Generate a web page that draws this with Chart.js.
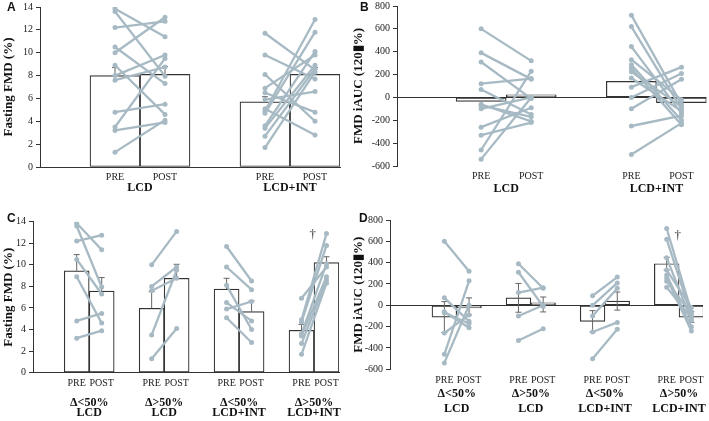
<!DOCTYPE html>
<html>
<head>
<meta charset="utf-8">
<script src="https://cdn.jsdelivr.net/npm/chart.js@4.4.0/dist/chart.umd.min.js"></script>
<style>
    html, body { margin: 0; padding: 0; background: #fff; }
    #figure { position: relative; width: 709px; height: 421px; overflow: hidden; }
    canvas { position: absolute; }
    .letter { position: absolute; font: bold 12px "Liberation Sans", Arial, sans-serif; line-height: 12px; color: #111; }
</style>
</head>
<body>
<div id="figure">
    <canvas id="chartA" width="350" height="210" style="left:0;top:0"></canvas>
    <canvas id="chartB" width="359" height="210" style="left:350px;top:0"></canvas>
    <canvas id="chartC" width="350" height="211" style="left:0;top:210px"></canvas>
    <canvas id="chartD" width="359" height="211" style="left:350px;top:210px"></canvas>
    <div class="letter" style="left:7px;top:1px">A</div>
    <div class="letter" style="left:360px;top:1px">B</div>
    <div class="letter" style="left:7px;top:212px">C</div>
    <div class="letter" style="left:359px;top:212px">D</div>
</div>
<script>
//LABELS
const prePostLabels = ['PRE', 'POST'];
const dietGroups = ['LCD', 'LCD+INT'];
const responseGroups = [['Δ<50%', 'LCD'], ['Δ>50%', 'LCD'], ['Δ<50%', 'LCD+INT'], ['Δ>50%', 'LCD+INT']];
const fmdTicks = [0, 2, 4, 6, 8, 10, 12, 14];
const aucTicks = [-600, -400, -200, 0, 200, 400, 600, 800];

//FASTING FMD (%) PER SUBJECT, BY RESPONSE GROUP (PANEL C), MERGED FOR PANEL A
const fmdPre = [
    [13.85, 13.6, 12.2, 10.5, 8.9, 4.8, 3.2],
    [10.0, 8.0, 7.6, 3.5, 1.3],
    [11.7, 9.8, 8.1, 6.5, 5.9, 5.1],
    [6.9, 4.9, 4.7, 3.6, 3.4, 2.7, 1.7]
];
const fmdPost = [
    [11.4, 7.95, 12.75, 7.3, 4.6, 5.5, 3.9],
    [13.1, 9.8, 8.75, 9.5, 4.1],
    [8.5, 7.7, 4.0, 4.8, 6.6, 2.8],
    [9.8, 12.9, 11.8, 10.1, 8.9, 8.6, 8.3]
];
const fmdMeanPre = [9.45, 5.97, 7.75, 3.93];
const fmdMeanPost = [7.57, 8.75, 5.66, 10.2];
const fmdSePre = [1.5, 1.55, 1.0, 0.55];
const fmdSePost = [1.25, 1.3, 1.0, 0.55];
const fmdMeanPreAll = [8.0, 5.7];
const fmdMeanPostAll = [8.1, 8.1];
const fmdSePreAll = [0.7, 0.45];
const fmdSePostAll = [0.7, 0.6];

//FMD iAUC PER SUBJECT, BY RESPONSE GROUP (PANEL D), MERGED FOR PANEL B
const aucPre = [
    [600, 70, -60, -70, -260, -460, -540],
    [390, 310, 120, -100, -330],
    [90, 0, -100, -250, -500],
    [720, 620, 445, 330, 285, 255, 225, 170]
];
const aucPost = [
    [320, -150, -210, -170, -90, 230, 0],
    [160, -10, 165, 0, -220],
    [265, 210, 160, -160, -225],
    [-60, -100, -140, -20, -200, -240, -80, -120]
];
const aucMeanPre = [-110, 70, -150, 390];
const aucMeanPost = [-10, 8, 40, -110];
const aucSePre = [145, 135, 100, 60];
const aucSePost = [80, 70, 85, 50];
const aucMeanPreAll = [-35, 140];
const aucMeanPostAll = [10, -45];

//SIGNIFICANCE MARKS
const daggerFmd = { group: 3, y: 12.8 };
const daggerAuc = { group: 3, y: 650 };


const serif = '"Liberation Serif", "Times New Roman", serif';
const subjectColor = '#a7bac4';
const inkColor = '#333';

const mergeGroups = (arr, a, b) => arr[a].concat(arr[b]);


//ERROR BARS, DRAWN RIGHT AFTER THE BARS AND UNDER THE SUBJECT LINES
const errorBarsPlugin = {
    id: 'errorBars',
    afterDatasetDraw(chart, args, opts) {
        if (args.meta.type !== 'bar' || !opts.up) return;
        const ctx = chart.ctx;
        const yScale = chart.scales.y;
        const values = chart.data.datasets[args.index].data;
        ctx.save();
        ctx.strokeStyle = '#666';
        ctx.lineWidth = 1;
        args.meta.data.forEach((bar, i) => {
            const v = values[i].y;
            const top = yScale.getPixelForValue(v + opts.up[i]);
            const bottom = yScale.getPixelForValue(v - (opts.both ? opts.up[i] : 0));
            ctx.beginPath();
            ctx.moveTo(bar.x, top);
            ctx.lineTo(bar.x, bottom);
            ctx.moveTo(bar.x - 3, top);
            ctx.lineTo(bar.x + 3, top);
            if (opts.both) {
                ctx.moveTo(bar.x - 3, bottom);
                ctx.lineTo(bar.x + 3, bottom);
            }
            ctx.stroke();
        });
        ctx.restore();
    }
};

//DAGGER MARKS
const daggerPlugin = {
    id: 'daggers',
    afterDatasetsDraw(chart, args, opts) {
        if (!opts.items) return;
        const ctx = chart.ctx;
        ctx.save();
        ctx.fillStyle = inkColor;
        ctx.font = '13px ' + serif;
        ctx.textAlign = 'center';
        ctx.textBaseline = 'middle';
        opts.items.forEach(d => {
            ctx.fillText('†', chart.scales.x.getPixelForValue(d.x), chart.scales.y.getPixelForValue(d.y));
        });
        ctx.restore();
    }
};

//KEEP THE PLOT AREA WHERE IT IS, NO EXTRA ROOM FOR OVERHANGING LABELS
const noLabelPadding = (s) => {
    s.paddingLeft = 0;
    s.paddingRight = 0;
    s.paddingTop = 0;
    s.paddingBottom = 0;
};


//BUILD ONE PANEL
const makePanel = (canvasId, p) => {
    const preX = (g) => p.firstPre + g * 3;
    const postX = (g) => p.firstPre + g * 3 + 1;
    const nGroups = p.groups.length;

    let datasets = [];
    let tickPos = [];
    let groupPos = [];
    let barData = [];
    let errUp = [];

    for (let g = 0; g < nGroups; g++) {
        tickPos.push(preX(g), postX(g));
        groupPos.push(preX(g) + 0.5);
        barData.push({ x: preX(g), y: p.meanPre[g] }, { x: postX(g), y: p.meanPost[g] });
        if (p.sePre) errUp.push(p.sePre[g], p.sePost[g]);
        for (let i = 0; i < p.pre[g].length; i++) {
            datasets.push({
                type: 'line',
                xAxisID: 'x',
                yAxisID: 'y',
                data: [{ x: preX(g), y: p.pre[g][i] }, { x: postX(g), y: p.post[g][i] }],
                borderColor: subjectColor,
                backgroundColor: subjectColor,
                borderWidth: 2.3,
                pointRadius: 2.5,
                pointBorderWidth: 0,
                pointBackgroundColor: subjectColor,
                pointHoverRadius: 0,
                order: 1
            });
        }
    }

    datasets.push({
        type: 'bar',
        xAxisID: 'x',
        yAxisID: 'y',
        data: barData,
        backgroundColor: '#fff',
        borderColor: inkColor,
        borderWidth: 1.2,
        borderSkipped: false,
        minBarLength: 2.5,
        barPercentage: 1,
        categoryPercentage: 1,
        order: 2
    });

    let daggers = [];
    if (p.dagger) daggers.push({ x: preX(p.dagger.group) + 0.45, y: p.dagger.y });

    const yTicks = p.yTicks;

    new Chart(document.getElementById(canvasId), {
        data: { datasets: datasets },
        options: {
            responsive: false,
            animation: false,
            events: [],
            layout: { padding: { left: 0, top: p.padTop, right: p.padRight, bottom: 0 } },
            plugins: {
                legend: { display: false },
                tooltip: { enabled: false },
                errorBars: { up: p.sePre ? errUp : null, both: p.both },
                daggers: { items: daggers }
            },
            scales: {
                x: {
                    type: 'linear',
                    axis: 'x',
                    position: 'bottom',
                    min: 0,
                    max: p.xMax,
                    bounds: 'data',
                    offset: false,
                    weight: 0,
                    grid: { display: false, drawTicks: false, offset: false },
                    border: { display: p.baseLine, color: inkColor, width: 1 },
                    ticks: {
                        autoSkip: false,
                        maxRotation: 0,
                        padding: p.xPad,
                        color: '#222',
                        font: { family: serif, size: 10, lineHeight: 1 },
                        callback: (v, i) => prePostLabels[i % 2]
                    },
                    afterBuildTicks: (s) => { s.ticks = tickPos.map(v => ({ value: v })); },
                    afterFit: (s) => { s.height = p.xH; noLabelPadding(s); }
                },
                x2: {
                    type: 'linear',
                    axis: 'x',
                    position: 'bottom',
                    min: 0,
                    max: p.xMax,
                    bounds: 'data',
                    offset: false,
                    weight: 1,
                    grid: { display: false, drawTicks: false, offset: false },
                    border: { display: false },
                    ticks: {
                        autoSkip: false,
                        maxRotation: 0,
                        padding: p.x2Pad,
                        color: '#111',
                        font: { family: serif, size: 12, weight: 'bold', lineHeight: p.groupLH },
                        callback: (v, i) => p.groups[i]
                    },
                    afterBuildTicks: (s) => { s.ticks = groupPos.map(v => ({ value: v })); },
                    afterFit: (s) => { s.height = p.x2H; noLabelPadding(s); }
                },
                y: {
                    type: 'linear',
                    min: yTicks[0],
                    max: yTicks[yTicks.length - 1],
                    bounds: 'data',
                    grid: {
                        display: true,
                        drawOnChartArea: !p.baseLine,
                        drawTicks: true,
                        tickLength: 4,
                        tickColor: inkColor,
                        lineWidth: 1,
                        color: (ctx) => (ctx.tick && ctx.tick.value === 0) ? inkColor : 'rgba(0,0,0,0)'
                    },
                    border: { display: true, color: inkColor, width: 1 },
                    ticks: {
                        padding: 3,
                        color: '#222',
                        font: { family: serif, size: 10 },
                        callback: (v) => String(v)
                    },
                    title: {
                        display: true,
                        text: p.title,
                        color: '#111',
                        font: { family: serif, size: 13, weight: 'bold' },
                        padding: { top: 1, bottom: 0 }
                    },
                    afterBuildTicks: (s) => { s.ticks = yTicks.map(v => ({ value: v })); },
                    afterFit: (s) => { s.width = p.yW; noLabelPadding(s); }
                }
            }
        },
        plugins: [errorBarsPlugin, daggerPlugin]
    });
};


//PANEL A
makePanel('chartA', {
    groups: dietGroups,
    pre: [mergeGroups(fmdPre, 0, 1), mergeGroups(fmdPre, 2, 3)],
    post: [mergeGroups(fmdPost, 0, 1), mergeGroups(fmdPost, 2, 3)],
    meanPre: fmdMeanPreAll, meanPost: fmdMeanPostAll,
    sePre: fmdSePreAll, sePost: fmdSePostAll, both: false,
    yTicks: fmdTicks, title: 'Fasting FMD (%)', baseLine: true,
    firstPre: 1.5, xMax: 6,
    yW: 40, padTop: 7, padRight: 10, xH: 15, x2H: 28, xPad: 5, x2Pad: 0, groupLH: 1
});

//PANEL B
makePanel('chartB', {
    groups: dietGroups,
    pre: [mergeGroups(aucPre, 0, 1), mergeGroups(aucPre, 2, 3)],
    post: [mergeGroups(aucPost, 0, 1), mergeGroups(aucPost, 2, 3)],
    meanPre: aucMeanPreAll, meanPost: aucMeanPostAll,
    yTicks: aucTicks, title: 'FMD iAUC (120▮%)', baseLine: false,
    firstPre: 1.68, xMax: 6.18,
    yW: 47, padTop: 6, padRight: 2, xH: 16, x2H: 28, xPad: 5.7, x2Pad: 1.3, groupLH: 1
});

//PANEL C
makePanel('chartC', {
    groups: responseGroups,
    pre: fmdPre, post: fmdPost,
    meanPre: fmdMeanPre, meanPost: fmdMeanPost,
    sePre: fmdSePre, sePost: fmdSePost, both: false,
    dagger: daggerFmd,
    yTicks: fmdTicks, title: 'Fasting FMD (%)', baseLine: true,
    firstPre: 1.75, xMax: 12.25,
    yW: 33, padTop: 11.7, padRight: 11, xH: 16, x2H: 32.3, xPad: 5.6, x2Pad: 8.7, groupLH: 0.875
});

//PANEL D
makePanel('chartD', {
    groups: responseGroups,
    pre: aucPre, post: aucPost,
    meanPre: aucMeanPre, meanPost: aucMeanPost,
    sePre: aucSePre, sePost: aucSePost, both: true,
    dagger: daggerAuc,
    yTicks: aucTicks, title: 'FMD iAUC (120▮%)', baseLine: false,
    firstPre: 2.2, xMax: 12.67,
    yW: 40, padTop: 10, padRight: 6, xH: 16, x2H: 35.7, xPad: 6.4, x2Pad: 1.5, groupLH: 1.25
});
</script>
</body>
</html>
